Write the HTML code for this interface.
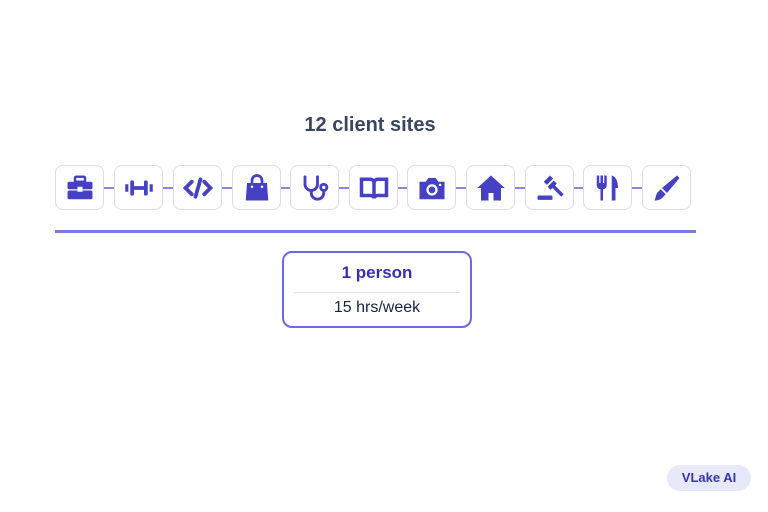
<!DOCTYPE html>
<html><head><meta charset="utf-8"><style>
html,body{margin:0;padding:0;background:#fff;}
body{width:768px;height:512px;position:relative;overflow:hidden;font-family:"Liberation Sans",sans-serif;}
.title{position:absolute;left:0;width:740px;top:114px;text-align:center;font-size:20px;font-weight:bold;color:#3a4560;}
.conn{position:absolute;left:80px;width:590px;top:187px;height:2px;background:#8585ea;}
.box{position:absolute;top:165px;width:47px;height:43px;border:1px solid #dcdce6;border-radius:8px;background:#fff;display:flex;align-items:center;justify-content:center;}
.box svg{width:30px;height:30px;}
.line{position:absolute;left:55px;width:641px;top:230px;height:3px;background:#7b7be8;}
.card{position:absolute;left:282px;top:251px;width:186px;height:73px;border:2px solid #6a6ae2;border-radius:10px;background:#fff;}
.p1{position:absolute;top:10px;width:100%;text-align:center;font-size:17px;font-weight:bold;color:#3530b0;}
.div{position:absolute;left:10px;right:10px;top:39px;height:1px;background:#e2e2ea;}
.p2{position:absolute;top:46px;width:100%;text-align:center;font-size:16px;color:#17223f;}
.badge{position:absolute;left:667px;top:465px;width:84px;height:26px;border-radius:13px;background:#e8e8fb;color:#3535b0;font-size:13px;font-weight:bold;text-align:center;line-height:26px;}
</style></head><body>
<div class="title">12 client sites</div>
<div class="conn"></div>
<div class="box" style="left:55px"><svg viewBox="0 0 24 24" fill="#4540c4"><rect x="8" y="3" width="8" height="4" rx="1" fill="none" stroke="#4540c4" stroke-width="2"/><rect x="2" y="7" width="20" height="6" rx="1.5"/><rect x="2" y="14" width="20" height="7" rx="1.5"/><rect x="10" y="11" width="4" height="4" fill="#fff"/></svg></div>
<div class="box" style="left:114px"><svg viewBox="0 0 24 24" fill="#4540c4"><rect x="1" y="9" width="2.5" height="6"/><rect x="5" y="6" width="3" height="12" rx="1"/><rect x="8" y="10.5" width="8" height="3"/><rect x="16" y="6" width="3" height="12" rx="1"/><rect x="20.5" y="9" width="2.5" height="6"/></svg></div>
<div class="box" style="left:173px"><svg viewBox="0 0 24 24" fill="none" stroke="#4540c4" stroke-width="3" stroke-linecap="round"><path d="M7 7l-5 5 5 5M17 7l5 5-5 5M14 5l-4 14"/></svg></div>
<div class="box" style="left:232px"><svg viewBox="0 0 24 24" fill="#4540c4"><path d="M8 9V6a4 4 0 0 1 8 0v3" fill="none" stroke="#4540c4" stroke-width="2.2"/><path d="M4 8h16l1 14H3z"/><circle cx="8" cy="11" r="1" fill="#fff"/><circle cx="16" cy="11" r="1" fill="#fff"/></svg></div>
<div class="box" style="left:290px"><svg viewBox="0 0 24 24" fill="none" stroke="#4540c4" stroke-width="2.3" stroke-linecap="round"><path d="M4 3v6a5 5 0 0 0 10 0V3"/><path d="M9 14v2a5 5 0 0 0 10 0v-2"/><circle cx="19" cy="11.5" r="2.5"/></svg></div>
<div class="box" style="left:349px"><svg viewBox="0 0 24 24" fill="none" stroke="#4540c4" stroke-width="2.8"><path d="M2 5h7a3 3 0 0 1 3 3v12a3 3 0 0 0-3-2H2zM22 5h-7a3 3 0 0 0-3 3v12a3 3 0 0 1 3-2h7z"/></svg></div>
<div class="box" style="left:407px"><svg viewBox="0 0 24 24" fill="#4540c4"><path d="M2 7h5l2-3h6l2 3h5v14H2z"/><circle cx="12" cy="13.5" r="4.5" fill="#fff"/><circle cx="12" cy="13.5" r="2.7"/><circle cx="18.5" cy="9.5" r="1" fill="#fff"/></svg></div>
<div class="box" style="left:466px"><svg viewBox="0 0 24 24" fill="#4540c4"><path d="M12 2L1 12h3v10h6v-6h4v6h6V12h3z"/></svg></div>
<div class="box" style="left:525px"><svg viewBox="0 0 24 24" fill="#4540c4"><rect x="2" y="18" width="12" height="3.5" rx="1"/><path d="M7 7l5-5 2.5 2.5-5 5z"/><path d="M10 11l5-5 2.5 2.5-5 5z"/><path d="M12 10l2-2 9 9-2 2z"/></svg></div>
<div class="box" style="left:583px"><svg viewBox="0 0 24 24" fill="#4540c4"><path d="M3 2h2v6h1V2h2v6h1V2h2v8a3 3 0 0 1-3 3v9H6v-9a3 3 0 0 1-3-3z"/><path d="M15 2c4 1 5 6 5 10h-2v10h-3z"/></svg></div>
<div class="box" style="left:642px"><svg viewBox="0 0 24 24" fill="#4540c4"><path d="M20 2l2 2-10 12-4-4z"/><path d="M7 13l4 4-3 3c-2 2-5 2-6 2 1-2 1-4 2-6z"/></svg></div>
<div class="line"></div>
<div class="card"><div class="p1">1 person</div><div class="div"></div><div class="p2">15 hrs/week</div></div>
<div class="badge">VLake AI</div>
</body></html>
